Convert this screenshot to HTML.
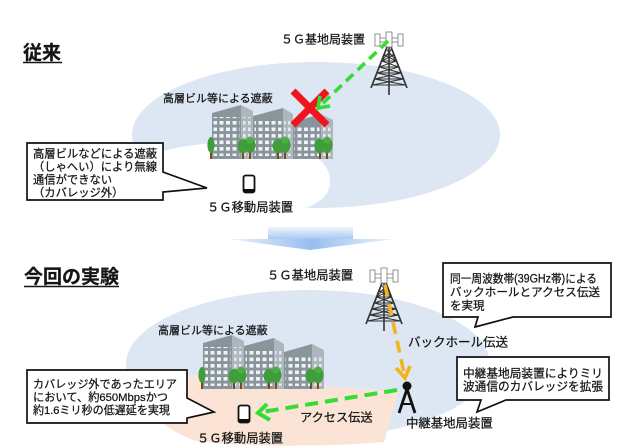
<!DOCTYPE html>
<html><head><meta charset="utf-8">
<style>
html,body{margin:0;padding:0;background:#fff;}
svg{display:block;}
text{font-family:"Liberation Sans","Noto Sans CJK JP",sans-serif;fill:#151515;stroke:#151515;stroke-width:0.25px;}
</style></head>
<body>
<svg width="625" height="446" viewBox="0 0 625 446" xmlns="http://www.w3.org/2000/svg">
<defs>
  <pattern id="win" width="6.5" height="6.5" patternUnits="userSpaceOnUse">
    <rect x="1" y="1" width="4" height="3.6" fill="#eef3f7"/>
  </pattern>
  <pattern id="win2" width="5" height="6.5" patternUnits="userSpaceOnUse">
    <rect x="1" y="1" width="2.6" height="3.6" fill="#e2e8ed"/>
  </pattern>
  <linearGradient id="shaft" x1="0" y1="0" x2="0" y2="1">
    <stop offset="0" stop-color="#f0f5fd"/>
    <stop offset="1" stop-color="#a9c8f2"/>
  </linearGradient>
  <linearGradient id="head" x1="0" y1="0" x2="1" y2="0">
    <stop offset="0" stop-color="#eef4fc"/>
    <stop offset="0.5" stop-color="#97bdef"/>
    <stop offset="1" stop-color="#eef4fc"/>
  </linearGradient>
  <g id="bld">
    <polygon points="0,-46 29,-54 29,0 0,0" fill="#8a959b"/>
    <polygon points="29,-54 41,-48 41,0 29,0" fill="#adb6bc"/>
    <rect x="1.5" y="-42" width="26" height="39" fill="url(#win)"/>
    <rect x="30" y="-42" width="10" height="39" fill="url(#win2)"/>
    <polygon points="41,-43 71,-51 71,0 41,0" fill="#8a959b"/>
    <polygon points="71,-51 81,-45 81,0 71,0" fill="#adb6bc"/>
    <rect x="42.5" y="-39" width="27" height="36" fill="url(#win)"/>
    <rect x="72" y="-39" width="8" height="36" fill="url(#win2)"/>
    <polygon points="81,-37 109,-45 109,0 81,0" fill="#8a959b"/>
    <polygon points="109,-45 121,-39 121,0 109,0" fill="#adb6bc"/>
    <rect x="82.5" y="-33" width="25" height="30" fill="url(#win)"/>
    <rect x="110" y="-33" width="10" height="30" fill="url(#win2)"/>
    <g fill="#7a4a1e">
      <rect x="-2" y="-7" width="2" height="7"/>
      <rect x="30" y="-7" width="2" height="7"/><rect x="37" y="-7" width="2" height="7"/>
      <rect x="65" y="-7" width="2" height="7"/><rect x="72" y="-7" width="2" height="7"/>
      <rect x="107" y="-7" width="2" height="7"/><rect x="114" y="-7" width="2" height="7"/>
    </g>
    <g fill="#3f9e3a">
      <ellipse cx="-1" cy="-14" rx="3.6" ry="8"/>
      <ellipse cx="31" cy="-13" rx="5.5" ry="7"/><ellipse cx="38" cy="-14" rx="5.5" ry="8"/>
      <ellipse cx="66" cy="-13" rx="5.5" ry="7"/><ellipse cx="73" cy="-14" rx="5.5" ry="8"/>
      <ellipse cx="108" cy="-13" rx="5.5" ry="7"/><ellipse cx="115" cy="-14" rx="5.5" ry="8"/>
    </g>
    <g fill="#4caf45">
      <circle cx="38" cy="-19" r="3.5"/><circle cx="73" cy="-19" r="3.5"/><circle cx="115" cy="-19" r="3.5"/>
    </g>
  </g>
  <g id="tower">
    <g stroke="#333" fill="none">
      <line x1="-2" y1="0" x2="-18" y2="41" stroke-width="1.7"/>
      <line x1="2" y1="0" x2="18" y2="41" stroke-width="1.7"/>
      <line x1="0" y1="0" x2="0" y2="48" stroke-width="1.6"/>
      <g stroke-width="1">
        <line x1="-5.1" y1="8" x2="5.1" y2="8"/>
        <line x1="-7.5" y1="14" x2="7.5" y2="14"/>
        <line x1="-9.8" y1="20" x2="9.8" y2="20"/>
        <line x1="-12.1" y1="26" x2="12.1" y2="26"/>
        <line x1="-14.5" y1="32" x2="14.5" y2="32"/>
        <line x1="-16.8" y1="38" x2="16.8" y2="38"/>
        <polyline points="-2.8,2 7.5,14 -9.8,20 12.1,26 -14.5,32 16.8,38"/>
        <polyline points="2.8,2 -7.5,14 9.8,20 -12.1,26 14.5,32 -16.8,38"/>
        <polyline points="-5.1,8 7.5,14"/>
        <polyline points="5.1,8 -7.5,14"/>
      </g>
    </g>
    <g fill="#fff" stroke="#777" stroke-width="0.8">
      <line x1="-14" y1="-9" x2="14" y2="-9"/>
      <line x1="-14" y1="-5" x2="14" y2="-5"/>
      <rect x="-14" y="-13" width="5" height="12"/>
      <rect x="-3" y="-15" width="6" height="15"/>
      <rect x="9" y="-13" width="5" height="12"/>
    </g>
  </g>
</defs>

<!-- ===== TOP SECTION ===== -->
<ellipse cx="316" cy="135" rx="184" ry="73" fill="#dce7f3"/>
<path d="M120 168 C150 150 200 140 262 142 C305 144 332 160 330 184 C328 200 310 210 280 214 L120 214 Z" fill="#fff"/>

<text x="23" y="59" font-size="19" font-weight="bold">従来</text>
<line x1="23" y1="62.5" x2="62" y2="62.5" stroke="#151515" stroke-width="1.6"/>

<text x="281" y="43.6" font-size="12">５Ｇ基地局装置</text>
<use href="#tower" transform="translate(389,47)"/>

<text x="163" y="102" font-size="11">高層ビル等による遮蔽</text>
<use href="#bld" transform="translate(212,159)"/>

<g stroke="#f0141e" stroke-width="7">
  <line x1="293" y1="91" x2="327" y2="125"/>
  <line x1="327" y1="91" x2="293" y2="125"/>
</g>

<line x1="388" y1="41" x2="322" y2="104" stroke="#33dd33" stroke-width="3.6" stroke-dasharray="10 6"/>
<polyline points="320,96 318,108 330,106" fill="none" stroke="#33dd33" stroke-width="3.6"/>

<!-- phone top -->
<rect x="243.5" y="175.5" width="11" height="17" rx="2" fill="#fff" stroke="#111" stroke-width="1.8"/>
<rect x="243.5" y="189" width="11" height="3.5" fill="#111"/>
<text x="207" y="211.7" font-size="12.3">５Ｇ移動局装置</text>

<!-- callout 1 -->
<path d="M27 143 H163 V172 L207 188 L163 192 V200 H27 Z" fill="#fff" stroke="#111" stroke-width="1.7"/>
<text x="33" y="157.3" font-size="11.3" textLength="124" lengthAdjust="spacingAndGlyphs">高層ビルなどによる遮蔽</text>
<text x="33" y="170.3" font-size="11.3" textLength="124" lengthAdjust="spacingAndGlyphs">（しゃへい）により無線</text>
<text x="33" y="183.3" font-size="11.3">通信ができない</text>
<text x="33" y="196.3" font-size="11.3">（カバレッジ外）</text>

<!-- down arrow -->
<rect x="268" y="227" width="85" height="12" fill="url(#shaft)"/>
<polygon points="228,239 395,239 310,250" fill="url(#head)"/>

<!-- ===== BOTTOM SECTION ===== -->
<ellipse cx="308" cy="364" rx="182" ry="74" fill="#dce7f3"/>
<path d="M126 370 L398 392 L384 442 C330 447 240 447 196 441 C160 428 132 402 126 370 Z" fill="#fbe4d5"/>

<text x="24" y="283" font-size="19" font-weight="bold">今回の実験</text>
<line x1="24" y1="286.5" x2="119" y2="286.5" stroke="#151515" stroke-width="1.6"/>

<text x="267" y="279.7" font-size="12.3">５Ｇ基地局装置</text>
<use href="#tower" transform="translate(384,283)"/>

<text x="158" y="334" font-size="11">高層ビル等による遮蔽</text>
<use href="#bld" transform="translate(203,389)"/>

<!-- backhaul yellow -->
<line x1="385" y1="285" x2="404" y2="373" stroke="#f4b41c" stroke-width="3.6" stroke-dasharray="12 7"/>
<polyline points="396,368 405,378 410,366" fill="none" stroke="#f4b41c" stroke-width="3.6"/>
<text x="408" y="346.7" font-size="12.5">バックホール伝送</text>

<!-- relay -->
<circle cx="407" cy="386" r="4.5" fill="#111"/>
<g stroke="#111" stroke-width="2.8" fill="none">
  <line x1="407" y1="389" x2="399" y2="413"/>
  <line x1="407" y1="389" x2="415" y2="413"/>
  <line x1="402" y1="404" x2="412" y2="404" stroke-width="2"/>
</g>
<text x="406" y="427.7" font-size="12.4">中継基地局装置</text>

<!-- access green -->
<line x1="397" y1="390" x2="262" y2="412" stroke="#33dd33" stroke-width="4" stroke-dasharray="13 7"/>
<polyline points="267,404 258,413 270,420" fill="none" stroke="#33dd33" stroke-width="4"/>
<text x="300" y="421.6" font-size="12.2">アクセス伝送</text>

<!-- phone bottom -->
<rect x="238.5" y="405.5" width="11" height="17" rx="2" fill="#fff" stroke="#111" stroke-width="1.8"/>
<rect x="238.5" y="419" width="11" height="3.5" fill="#111"/>
<text x="197" y="442.7" font-size="12.3">５Ｇ移動局装置</text>

<!-- callout 2 -->
<path d="M27 370 H187 V398 L214 412 L187 418 V423 H27 Z" fill="#fff" stroke="#111" stroke-width="1.7"/>
<text x="33" y="388.2" font-size="11.1" textLength="144" lengthAdjust="spacingAndGlyphs">カバレッジ外であったエリア</text>
<text x="33" y="401.2" font-size="11.1" textLength="135" lengthAdjust="spacingAndGlyphs">において、約650Mbpsかつ</text>
<text x="33" y="414.2" font-size="11.1" textLength="137" lengthAdjust="spacingAndGlyphs">約1.6ミリ秒の低遅延を実現</text>

<!-- callout 3 -->
<path d="M443 263 H611 V317 H513 L475 327 L478 317 H443 Z" fill="#fff" stroke="#111" stroke-width="1.7"/>
<text x="450" y="282.5" font-size="11.5" textLength="147" lengthAdjust="spacingAndGlyphs">同一周波数帯(39GHz帯)による</text>
<text x="450" y="296" font-size="11.5" textLength="150" lengthAdjust="spacingAndGlyphs">バックホールとアクセス伝送</text>
<text x="450" y="309.5" font-size="11.5">を実現</text>

<!-- callout 4 -->
<path d="M457 357 H609 V400 H506 L477 412 L481 400 H457 Z" fill="#fff" stroke="#111" stroke-width="1.7"/>
<text x="463" y="377.4" font-size="11.7" textLength="140" lengthAdjust="spacingAndGlyphs">中継基地局装置によりミリ</text>
<text x="463" y="390.4" font-size="11.7" textLength="140" lengthAdjust="spacingAndGlyphs">波通信のカバレッジを拡張</text>
</svg>
</body></html>
